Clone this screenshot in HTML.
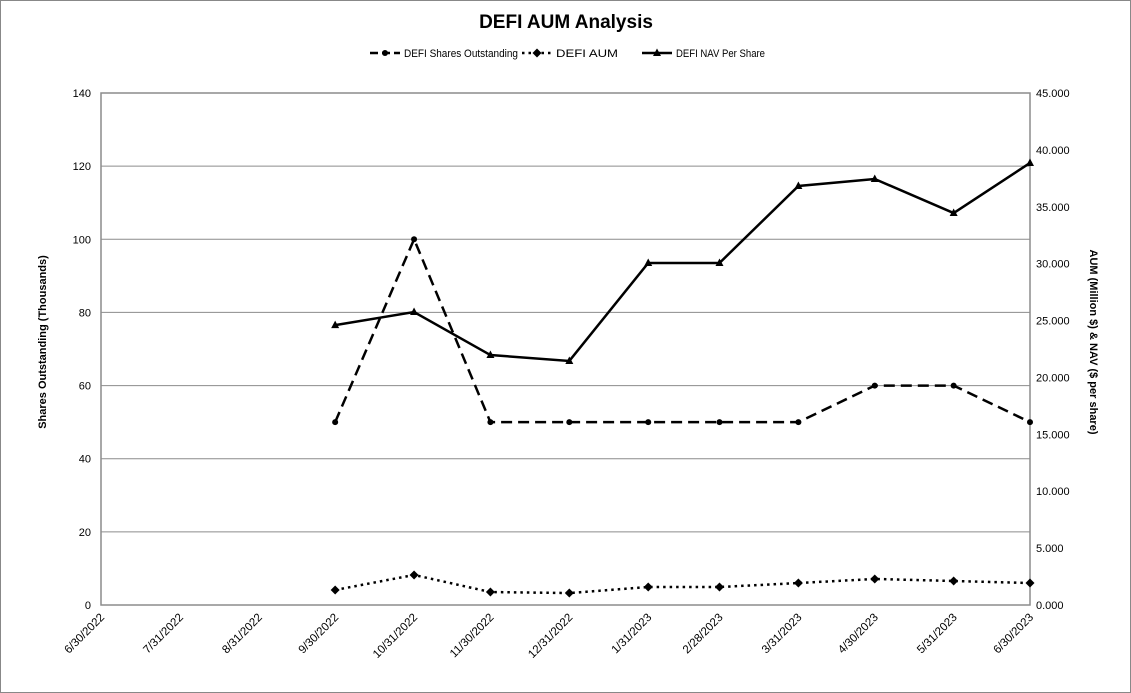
<!DOCTYPE html>
<html><head><meta charset="utf-8"><style>
body{margin:0;background:#fff}
svg{display:block;font-family:"Liberation Sans",Arial,sans-serif}
</style></head><body>
<svg width="1131" height="693" viewBox="0 0 1131 693">
<rect x="0.5" y="0.5" width="1130" height="692" fill="#fff" stroke="#888"/>
<text x="566" y="28" text-anchor="middle" font-size="19" font-weight="bold">DEFI AUM Analysis</text>
<g id="legend"></g>
<g id="grid"></g>
<g id="axes"></g>
<g id="series"></g>
<text transform="translate(46,342) rotate(-90)" text-anchor="middle" font-size="11" font-weight="bold">Shares Outstanding (Thousands)</text>
<text transform="translate(1090,342) rotate(90)" text-anchor="middle" font-size="11" font-weight="bold">AUM (Million $) &amp; NAV ($ per share)</text>
</svg>
<script>
const dates=["2022-06-30","2022-07-31","2022-08-31","2022-09-30","2022-10-31","2022-11-30","2022-12-31","2023-01-31","2023-02-28","2023-03-31","2023-04-30","2023-05-31","2023-06-30"];
const dateLabels=["6/30/2022","7/31/2022","8/31/2022","9/30/2022","10/31/2022","11/30/2022","12/31/2022","1/31/2023","2/28/2023","3/31/2023","4/30/2023","5/31/2023","6/30/2023"];
const seriesDates=["2022-09-30","2022-10-31","2022-11-30","2022-12-31","2023-01-31","2023-02-28","2023-03-31","2023-04-30","2023-05-31","2023-06-30"];
const shares=[50,100,50,50,50,50,50,60,60,50];
const aum=[1.32,2.64,1.14,1.05,1.58,1.58,1.93,2.29,2.11,1.93];
const nav=[24.6,25.75,21.97,21.45,30.06,30.06,36.83,37.44,34.45,38.85];
const leftTicks=[0,20,40,60,80,100,120,140];
const rightTicks=[0,5,10,15,20,25,30,35,40,45];

const NS="http://www.w3.org/2000/svg";
const L=101,R=1030,T=93,B=605;
const t0=Date.parse(dates[0]),t1=Date.parse(dates[dates.length-1]);
const xs=d=>L+(Date.parse(d)-t0)/(t1-t0)*(R-L);
const yl=v=>B-v/140*(B-T);
const yr=v=>B-v/45*(B-T);
function mk(tag,attrs,parent,text){const e=document.createElementNS(NS,tag);for(const k in attrs)e.setAttribute(k,attrs[k]);if(text!==undefined)e.textContent=text;parent.appendChild(e);return e;}
const grid=document.getElementById('grid'),axes=document.getElementById('axes'),ser=document.getElementById('series'),leg=document.getElementById('legend');
leftTicks.forEach(v=>{
  if(v>0){const g=mk('line',{x1:L,x2:R,y1:yl(v),y2:yl(v),stroke:'#8c8c8c','stroke-width':1},grid);
  
  }
  const t=mk('text',{x:L-10,y:yl(v)+4,'text-anchor':'end','font-size':11},axes,String(v));
  
  
});
rightTicks.forEach(v=>{
  const t=mk('text',{x:R+6,y:yr(v)+4,'text-anchor':'start','font-size':11},axes,v.toFixed(3));
  
  
});
const frame=mk('rect',{x:L,y:T,width:R-L,height:B-T,fill:'none',stroke:'#8c8c8c','stroke-width':1.5},axes);


dates.forEach((d,i)=>{
  const x=xs(d);
  const t=mk('text',{transform:`translate(${x+4},${B+13}) rotate(-45)`,'text-anchor':'end','font-size':11.5},axes,dateLabels[i]);
  
  
});
function line(vals,yf,dash,name,marker){
  const pts=vals.map((v,i)=>[xs(seriesDates[i]),yf(v)]);
  const p=mk('polyline',{points:pts.map(p=>p.join(',')).join(' '),fill:'none',stroke:'#000','stroke-width':2.5,'stroke-dasharray':dash},ser);
  
  
  pts.forEach(([x,y])=>{const m=drawMarker(marker,x,y,ser);
    
    });
}
function drawMarker(k,x,y,par){
  if(k==='circle')return mk('circle',{cx:x,cy:y,r:3,fill:'#000'},par);
  if(k==='diamond')return mk('polygon',{points:`${x},${y-4.5} ${x+4.5},${y} ${x},${y+4.5} ${x-4.5},${y}`,fill:'#000'},par);
  return mk('polygon',{points:`${x},${y-4.5} ${x+4},${y+3} ${x-4},${y+3}`,fill:'#000'},par);
}
line(shares,yl,'11,6','shares-outstanding','circle');
line(aum,yr,'2.5,4','aum','diamond');
line(nav,yr,'none','nav-per-share','triangle');
const legItems=[["DEFI Shares Outstanding",'8,4','circle',370,114],["DEFI AUM",'2.5,4','diamond',522,62],["DEFI NAV Per Share",'none','triangle',642,89]];
legItems.forEach(([lab,dash,mkr,x,w])=>{
  const g=mk('g',{},leg);
  
  
  mk('line',{x1:x,x2:x+30,y1:53,y2:53,stroke:'#000','stroke-width':2.5,'stroke-dasharray':dash},g);
  drawMarker(mkr,x+15,53,g);
  mk('text',{x:x+34,y:57,'font-size':11,textLength:w,lengthAdjust:'spacingAndGlyphs'},g,lab);
});
</script>
</body></html>
